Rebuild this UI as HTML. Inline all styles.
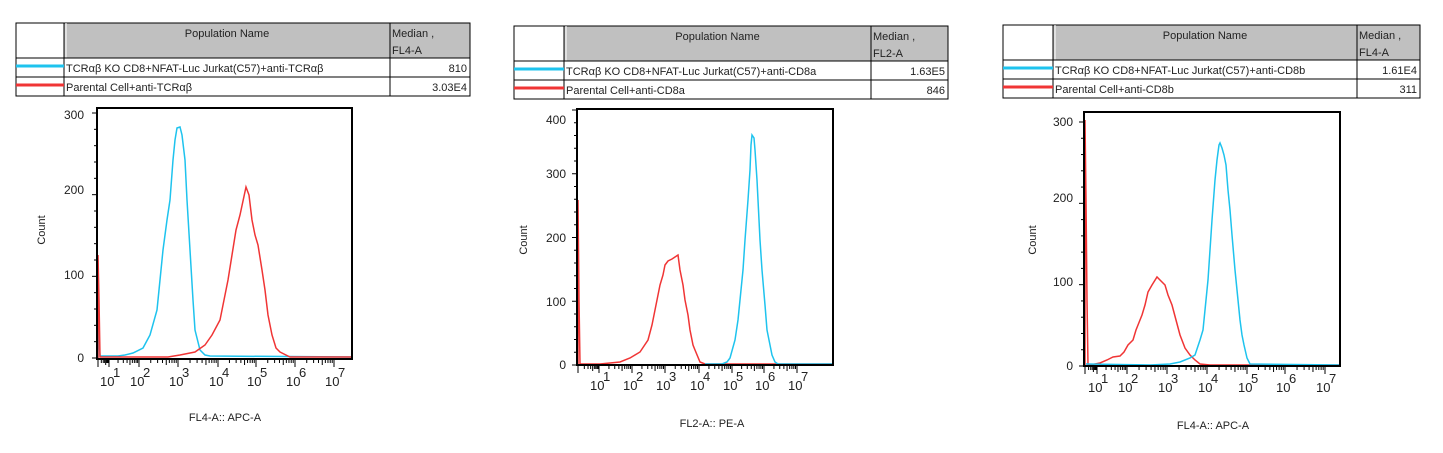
<!DOCTYPE html>
<html><head><meta charset="utf-8"><style>
body{margin:0;background:#fff;width:1443px;height:448px;overflow:hidden;font-family:"Liberation Sans",Arial,sans-serif}
svg text{font-family:"Liberation Sans",Arial,sans-serif;fill:#222}
</style></head><body>
<svg id="s" width="1443" height="448" xmlns="http://www.w3.org/2000/svg">
<g id="tables" font-size="11"></g>
<g fill="none" stroke-width="1.5">
<polyline stroke="#1ec3ee" points="98,358 98,300 99,340 100,356 118,356 125,355 133,353 143,348 150,335 157,310 160,280 163,250 167,220 170,200 173,160 175,140 177,128 180,127 182,135 185,160 187,200 190,250 193,300 195,330 200,350 205,355 210,356 352,357"/>
<polyline stroke="#f03535" points="98,358 98,255 99,300 100,357 168,357 180,355 195,352 205,345 212,335 220,320 228,280 232,255 236,230 240,215 246,187 249,195 252,220 255,235 258,245 262,270 265,290 268,315 272,335 276,348 280,352 290,357 352,357"/>
<polyline stroke="#f03535" points="578,365 578,200 579,300 580,364 600,364 620,362 630,358 640,352 648,340 652,325 657,300 660,285 663,275 665,265 668,261 672,259 675,257 678,255 680,270 683,285 685,300 688,315 690,330 693,345 695,350 700,362 705,364 833,364"/>
<polyline stroke="#1ec3ee" points="705,364 722,364 727,362 730,358 735,340 738,320 740,300 743,270 745,240 748,200 750,170 751,145 752,135 754,138 755,150 757,180 758,200 760,240 762,270 765,305 767,330 770,345 772,355 775,362 778,364 833,364"/>
<polyline stroke="#f03535" points="1085,366 1085,120 1086,200 1087,300 1088,365 1090,365 1100,363 1107,360 1113,357 1120,356 1124,352 1128,345 1133,340 1136,330 1138,325 1142,315 1145,305 1148,292 1152,285 1157,277 1160,280 1165,285 1168,295 1172,305 1176,320 1180,335 1185,348 1190,355 1195,360 1200,364 1210,365 1340,365"/>
<polyline stroke="#1ec3ee" points="1086,364 1150,365 1170,364 1180,362 1190,358 1195,355 1200,340 1203,330 1206,300 1208,280 1210,250 1212,220 1215,180 1217,160 1219,145 1220,143 1222,148 1224,155 1226,165 1228,190 1230,210 1232,235 1235,270 1238,300 1240,320 1242,335 1244,345 1247,358 1250,364 1340,365"/>
</g>
<g fill="none" stroke="#000" stroke-width="2">
<rect x="97" y="108" width="255" height="251"/>
<rect x="577" y="109" width="256" height="256"/>
<rect x="1084" y="112" width="256" height="254"/>
</g>
<g id="ticks" stroke="#000" stroke-width="1"></g>
<g font-size="12" text-anchor="end">
<text x="84" y="119">300</text><text x="84" y="194">200</text><text x="84" y="279">100</text><text x="84" y="362">0</text>
<text x="566" y="124">400</text><text x="566" y="178">300</text><text x="566" y="242">200</text><text x="566" y="306">100</text><text x="566" y="369">0</text>
<text x="1073" y="126">300</text><text x="1073" y="202">200</text><text x="1073" y="286">100</text><text x="1073" y="370">0</text>
</g>
<g font-size="11" text-anchor="middle">
<text transform="translate(45,230) rotate(-90)">Count</text>
<text transform="translate(527,240) rotate(-90)">Count</text>
<text transform="translate(1036,240) rotate(-90)">Count</text>
<text x="225" y="421">FL4-A:: APC-A</text>
<text x="712" y="427">FL2-A:: PE-A</text>
<text x="1213" y="429">FL4-A:: APC-A</text>
</g>
<g id="xl" font-size="13"></g>
</svg>
<script>
var NS="http://www.w3.org/2000/svg",s=document.getElementById('s');
function el(p,t,a,txt){var e=document.createElementNS(NS,t);for(var k in a)e.setAttribute(k,a[k]);if(txt!=null)e.textContent=txt;p.appendChild(e);return e;}
var T=document.getElementById('tables');
function table(x,y,c1,c2,c3,rows,unit){
 var h1=35,r=19,w=c3-x;
 el(T,'rect',{x:c1,y:y,width:c3-c1,height:h1,fill:'#c0c0c0'});
 el(T,'rect',{x:x,y:y,width:w,height:h1+2*r,fill:'none',stroke:'#000','stroke-width':1});
 [c1,c2].forEach(function(c){el(T,'line',{x1:c,y1:y,x2:c,y2:y+h1+2*r,stroke:'#000'});});
 el(T,'line',{x1:c1+2,y1:y,x2:c1+2,y2:y+h1,stroke:'#fff'});
 el(T,'line',{x1:x,y1:y+h1,x2:c3,y2:y+h1,stroke:'#000'});
 el(T,'line',{x1:x,y1:y+h1+r,x2:c3,y2:y+h1+r,stroke:'#000'});
 el(T,'text',{x:(c1+c2)/2,y:y+14,'text-anchor':'middle'},'Population Name');
 el(T,'text',{x:c2+2,y:y+14},'Median ,');
 el(T,'text',{x:c2+2,y:y+31},unit);
 var cols=['#1ec3ee','#f03535'];
 rows.forEach(function(rw,i){var yy=y+h1+r*i;
  el(T,'line',{x1:x,y1:yy+8,x2:c1,y2:yy+8,stroke:cols[i],'stroke-width':3});
  el(T,'text',{x:c1+2,y:yy+14},rw[0]);
  el(T,'text',{x:c3-3,y:yy+14,'text-anchor':'end'},rw[1]);});
}
table(16,23,64,390,470,[['TCRαβ KO CD8+NFAT-Luc Jurkat(C57)+anti-TCRαβ','810'],['Parental Cell+anti-TCRαβ','3.03E4']],'FL4-A');
table(514,26,564,871,948,[['TCRαβ KO CD8+NFAT-Luc Jurkat(C57)+anti-CD8a','1.63E5'],['Parental Cell+anti-CD8a','846']],'FL2-A');
table(1003,25,1053,1357,1420,[['TCRαβ KO CD8+NFAT-Luc Jurkat(C57)+anti-CD8b','1.61E4'],['Parental Cell+anti-CD8b','311']],'FL4-A');
var G=document.getElementById('ticks'),X=document.getElementById('xl');
function xaxis(y,left,right,pos,base){
 var d=[left];pos.forEach(function(p){d.push(p+2);});
 for(var i=0;i<d.length;i++){
  el(G,'line',{x1:d[i],y1:y,x2:d[i],y2:y+8});
  if(i<d.length-1){var a=d[i],b=d[i+1];for(var m=2;m<10;m++){var xx=a+(b-a)*Math.log10(m);el(G,'line',{x1:xx,y1:y,x2:xx,y2:y+(m==5?6:4)});}}
 }
 pos.forEach(function(p,i){el(X,'text',{x:p-7,y:base},'10');el(X,'text',{x:p+6,y:base-9},String(i+1));});
}
xaxis(359,98,352,[107,137,176,216,254,293,332],386);
xaxis(365,578,833,[597,630,663,697,730,762,795],390);
xaxis(366,1085,1340,[1095,1125,1165,1205,1245,1283,1323],392);
function yax(x,y0,y1,n){var st=(y0-y1)/n;for(var i=0;i<=n;i++){var yy=y0-i*st;el(G,'line',{x1:x-(i%5==0?5:3),y1:yy,x2:x,y2:yy});}}
yax(97,358,113,15);yax(577,365,110,20);yax(1084,366,122,15);
</script>
</body></html>
